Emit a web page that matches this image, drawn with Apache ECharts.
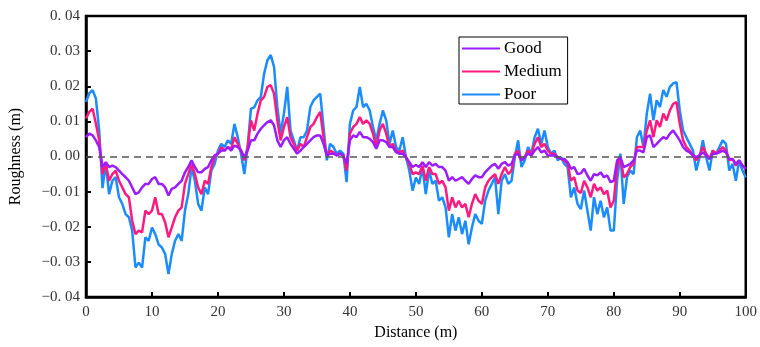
<!DOCTYPE html>
<html>
<head>
<meta charset="utf-8">
<script src="https://cdn.jsdelivr.net/npm/echarts@6/dist/echarts.min.js"></script>
<style>html,body{margin:0;padding:0;background:#fff;}#c{width:760px;height:347px;}</style>
</head>
<body>
<div id="c"></div>
<script>
// Distance sample grid (m), 0.5 m spacing
const distance = [];
for (let i = 0; i <= 200; i++) distance.push(i * 0.5);

const seriesNames = ['Good', 'Medium', 'Poor'];
const xTicks = [0, 10, 20, 30, 40, 50, 60, 70, 80, 90, 100];
const yTicks = [-0.04, -0.03, -0.02, -0.01, 0, 0.01, 0.02, 0.03, 0.04];

const poor = [
 0.0155, 0.0180, 0.0189, 0.0165, 0.0074, -0.0090, -0.0020, -0.0107, -0.0069, -0.0059,
 -0.0116, -0.0135, -0.0164, -0.0173, -0.0211, -0.0316, -0.0302, -0.0316, -0.0230, -0.0240,
 -0.0202, -0.0221, -0.0250, -0.0259, -0.0278, -0.0335, -0.0278, -0.0240, -0.0221, -0.0240,
 -0.0154, -0.0107, -0.0030, -0.0069, -0.0135, -0.0154, -0.0088, -0.0107, -0.0040, -0.0021,
 0.0017, 0.0036, 0.0027, 0.0046, 0.0036, 0.0093, 0.0055, 0.0008, -0.0050, 0.0027,
 0.0136,
 0.0140, 0.0160, 0.0170, 0.0236, 0.0274, 0.0289, 0.0255, 0.0141, 0.0065, 0.0122,
 0.0198, 0.0074, 0.0046, 0.0017, 0.0055, 0.0055, 0.0074, 0.0141, 0.0160, 0.0170,
 0.0179, 0.0084, -0.0011, 0.0036, 0.0027, 0.0008, 0.0017, 0.0008, -0.0073, 0.0093,
 0.0131, 0.0141, 0.0198, 0.0141, 0.0150, 0.0131, 0.0084, 0.0046, 0.0093, 0.0131,
 0.0103, 0.0036, 0.0074, 0.0027, 0.0017, 0.0055, -0.0002, -0.0040, -0.0097, -0.0060,
 -0.0078, -0.0030, -0.0107, -0.0040, -0.0078, -0.0069, -0.0126, -0.0116, -0.0145, -0.0230,
 -0.0164, -0.0211, -0.0173, -0.0221, -0.0183, -0.0250, -0.0202, -0.0164, -0.0183, -0.0192,
 -0.0126, -0.0097, -0.0078, -0.0059, -0.0164, -0.0069, -0.0050, -0.0078, -0.0069, -0.0002,
 0.0046, -0.0030, -0.0011, 0.0027, 0.0008, 0.0055, 0.0079, 0.0036, 0.0074, 0.0027,
 0.0008, 0.0017, -0.0011, -0.0002, -0.0021, -0.0030, -0.0116, -0.0088, -0.0135, -0.0150,
 -0.0097, -0.0154, -0.0211, -0.0116, -0.0164, -0.0126, -0.0173, -0.0145, -0.0211, -0.0211,
 -0.0069, 0.0008, -0.0135, -0.0059, -0.0040, -0.0050, 0.0055, 0.0074, 0.0027, 0.0122,
 0.0179, 0.0103, 0.0160, 0.0141, 0.0189, 0.0170, 0.0198, 0.0208, 0.0212, 0.0131,
 0.0074, 0.0055, 0.0036, 0.0017, -0.0040, -0.0002, 0.0046, -0.0002, -0.0040, 0.0017,
 0.0008, 0.0027, 0.0046, 0.0036, -0.0040, -0.0021, -0.0069, -0.0011, -0.0040, -0.0060
];

const medium = [
 0.0108, 0.0127, 0.0136, 0.0093, 0.0046, -0.0050, -0.0021, -0.0069, -0.0050, -0.0040,
 -0.0069, -0.0088, -0.0107, -0.0116, -0.0183, -0.0221, -0.0211, -0.0216, -0.0154, -0.0164,
 -0.0154, -0.0116, -0.0164, -0.0164, -0.0188, -0.0230, -0.0202, -0.0173, -0.0154, -0.0145,
 -0.0078, -0.0050, -0.0021, -0.0050, -0.0088, -0.0107, -0.0069, -0.0078, -0.0030, -0.0002,
 0.0008, 0.0027, 0.0017, 0.0027, 0.0022, 0.0055, 0.0036, 0.0017, -0.0011, 0.0027,
 0.0103,
 0.0074, 0.0122, 0.0160, 0.0170, 0.0198, 0.0203, 0.0179, 0.0103, 0.0046, 0.0084,
 0.0112, 0.0055, 0.0036, 0.0017, 0.0036, 0.0027, 0.0055, 0.0084, 0.0093, 0.0112,
 0.0127, 0.0055, 0.0003, 0.0017, 0.0012, 0.0003, 0.0008, 0.0003, -0.0040, 0.0065,
 0.0084, 0.0093, 0.0112, 0.0093, 0.0103, 0.0093, 0.0065, 0.0027, 0.0074, 0.0093,
 0.0065, 0.0027, 0.0036, 0.0017, 0.0012, 0.0017, -0.0002, -0.0021, -0.0050, -0.0045,
 -0.0050, -0.0026, -0.0069, -0.0030, -0.0050, -0.0050, -0.0078, -0.0069, -0.0088, -0.0154,
 -0.0116, -0.0145, -0.0126, -0.0145, -0.0135, -0.0173, -0.0135, -0.0107, -0.0126, -0.0135,
 -0.0088, -0.0069, -0.0059, -0.0050, -0.0078, -0.0050, -0.0030, -0.0050, -0.0040, 0.0008,
 0.0017, -0.0011, -0.0002, 0.0017, 0.0008, 0.0036, 0.0055, 0.0027, 0.0036, 0.0017,
 0.0008, 0.0008, -0.0002, -0.0007, -0.0011, -0.0021, -0.0069, -0.0059, -0.0097, -0.0104,
 -0.0069, -0.0088, -0.0116, -0.0078, -0.0097, -0.0088, -0.0107, -0.0097, -0.0145, -0.0126,
 -0.0030, -0.0002, -0.0059, -0.0050, -0.0030, -0.0021, 0.0027, 0.0027, 0.0027, 0.0074,
 0.0103, 0.0055, 0.0103, 0.0084, 0.0122, 0.0103, 0.0131, 0.0150, 0.0155, 0.0093,
 0.0046, 0.0027, 0.0017, 0.0003, -0.0011, 0.0003, 0.0027, 0.0008, -0.0007, 0.0017,
 0.0008, 0.0017, 0.0027, 0.0017, -0.0011, -0.0007, -0.0026, -0.0011, -0.0026, -0.0035
];

const good = [
 0.0055, 0.0065, 0.0060, 0.0046, 0.0027, -0.0030, -0.0016, -0.0030, -0.0026, -0.0030,
 -0.0040, -0.0050, -0.0059, -0.0069, -0.0088, -0.0107, -0.0102, -0.0088, -0.0078, -0.0078,
 -0.0064, -0.0059, -0.0078, -0.0078, -0.0088, -0.0111, -0.0092, -0.0088, -0.0078, -0.0069,
 -0.0045, -0.0030, -0.0011, -0.0030, -0.0045, -0.0045, -0.0035, -0.0030, -0.0011, 0.0003,
 0.0008, 0.0017, 0.0017, 0.0027, 0.0017, 0.0031, 0.0027, 0.0017, -0.0002, 0.0017,
 0.0046,
 0.0046, 0.0065, 0.0079, 0.0089, 0.0098, 0.0103, 0.0089, 0.0046, 0.0027, 0.0046,
 0.0055, 0.0036, 0.0022, 0.0008, 0.0017, 0.0027, 0.0036, 0.0046, 0.0055, 0.0060,
 0.0060, 0.0036, 0.0003, 0.0008, 0.0008, 0.0003, 0.0008, 0.0003, -0.0021, 0.0046,
 0.0060, 0.0055, 0.0070, 0.0055, 0.0055, 0.0050, 0.0041, 0.0022, 0.0046, 0.0046,
 0.0041, 0.0027, 0.0027, 0.0012, 0.0008, 0.0008, -0.0002, -0.0016, -0.0030, -0.0024,
 -0.0030, -0.0016, -0.0030, -0.0016, -0.0026, -0.0021, -0.0030, -0.0030, -0.0040, -0.0069,
 -0.0059, -0.0069, -0.0064, -0.0059, -0.0069, -0.0078, -0.0064, -0.0054, -0.0059, -0.0059,
 -0.0045, -0.0035, -0.0026, -0.0021, -0.0035, -0.0021, -0.0016, -0.0026, -0.0021, 0.0003,
 0.0008, -0.0011, -0.0002, 0.0008, 0.0003, 0.0017, 0.0027, 0.0012, 0.0017, 0.0003,
 0.0003, 0.0003, -0.0002, -0.0007, -0.0007, -0.0016, -0.0035, -0.0030, -0.0050, -0.0048,
 -0.0035, -0.0054, -0.0069, -0.0050, -0.0054, -0.0045, -0.0059, -0.0054, -0.0073, -0.0069,
 -0.0011, -0.0002, -0.0030, -0.0026, -0.0021, -0.0011, 0.0017, 0.0017, 0.0012, 0.0055,
 0.0060, 0.0027, 0.0036, 0.0046, 0.0055, 0.0050, 0.0065, 0.0074, 0.0060, 0.0046,
 0.0027, 0.0017, 0.0012, 0.0003, -0.0002, 0.0003, 0.0012, 0.0003, -0.0007, 0.0008,
 0.0008, 0.0012, 0.0017, 0.0012, -0.0007, -0.0007, -0.0021, -0.0011, -0.0026, -0.0035
];

const colors = { Good: '#9a1cff', Medium: '#ff1a80', Poor: '#1a8cff' };
const FONT = '"Liberation Serif", "DejaVu Serif", serif';

function pairs(arr) { return arr.map((v, i) => [distance[i], v]); }
function fmtY(v) {
  const s = Math.abs(v).toFixed(2).replace('.', '. ');
  return (v < 0 ? '\u2212' : '') + s;
}

const chart = echarts.init(document.getElementById('c'), null, { renderer: 'canvas' });
chart.setOption({
  animation: false,
  backgroundColor: '#fff',
  grid: { left: 83, right: 11, top: 16, bottom: 50, show: true, borderColor: '#000', borderWidth: 2.5, backgroundColor: 'transparent' },
  legend: {
    data: seriesNames.map(n => ({ name: n, icon: 'rect', itemStyle: { color: colors[n] } })),
    orient: 'vertical',
    left: 459, top: 37,
    padding: [3, 6, 1, 3],
    itemWidth: 38, itemHeight: 2, itemGap: 6,
    borderColor: '#000', borderWidth: 1, backgroundColor: '#fff',
    textStyle: { fontFamily: FONT, fontSize: 17, color: '#000', padding: [0, 0, 0, -1] }
  },
  xAxis: {
    type: 'value', min: 0, max: 100, interval: 10,
    name: 'Distance (m)', nameLocation: 'middle', nameGap: 24,
    nameTextStyle: { fontFamily: FONT, fontSize: 16, color: '#000' },
    axisLine: { show: true, onZero: false, lineStyle: { color: '#000', width: 2.5 } },
    axisTick: { show: true, inside: true, length: 5, lineStyle: { color: '#000', width: 2 } },
    axisLabel: { fontFamily: FONT, fontSize: 15, color: '#333', margin: 8, formatter: v => xTicks.includes(v) ? String(v) : '' },
    splitLine: { show: false }
  },
  yAxis: {
    type: 'value', min: -0.04, max: 0.04, interval: 0.01,
    name: 'Roughness (m)', nameLocation: 'middle', nameGap: 62, nameRotate: 90,
    nameTextStyle: { fontFamily: FONT, fontSize: 16, color: '#000' },
    axisLine: { show: true, onZero: false, lineStyle: { color: '#000', width: 2.5 } },
    axisTick: { show: true, inside: true, length: 5, lineStyle: { color: '#000', width: 2 } },
    axisLabel: { fontFamily: FONT, fontSize: 15, color: '#333', margin: 6, formatter: v => fmtY(v) },
    splitLine: { show: false }
  },
  series: [
    { name: 'Poor', type: 'line', data: pairs(poor), symbol: 'none', lineStyle: { color: colors.Poor, width: 2.5 }, itemStyle: { color: colors.Poor }, z: 2,
      markLine: { silent: true, symbol: ['none', 'none'], label: { show: false }, lineStyle: { color: '#555', width: 1.5, type: [7, 5] }, data: [{ yAxis: 0 }] } },
    { name: 'Medium', type: 'line', data: pairs(medium), symbol: 'none', lineStyle: { color: colors.Medium, width: 2.5 }, itemStyle: { color: colors.Medium }, z: 3 },
    { name: 'Good', type: 'line', data: pairs(good), symbol: 'none', lineStyle: { color: colors.Good, width: 2.5 }, itemStyle: { color: colors.Good }, z: 4 }
  ]
});
</script>
</body>
</html>
